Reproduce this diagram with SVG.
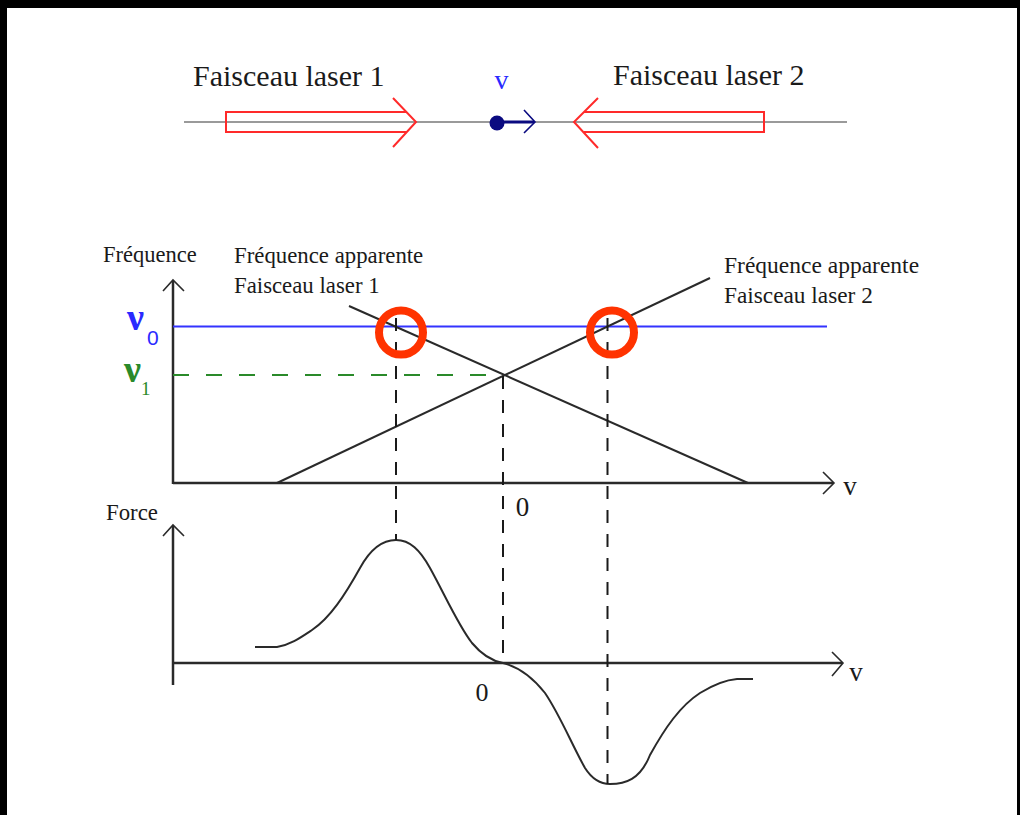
<svg xmlns="http://www.w3.org/2000/svg" width="1020" height="815" viewBox="0 0 1020 815">
<style>
.lbl{font-family:"Liberation Serif","Times New Roman",serif;fill:#1a1a1a}
.axis{stroke:#2a2a2a;stroke-width:2.5;fill:none}
.arm{stroke:#2a2a2a;stroke-width:1.6;fill:none}
.laser{stroke:#ff2a2a;stroke-width:2;fill:none}
.dash{stroke:#1a1a1a;stroke-width:2;stroke-dasharray:13 11;fill:none}
.freq{stroke:#2a2a2a;stroke-width:2;fill:none}
.ring{stroke:#ff3300;stroke-width:8;fill:none}
.nu{font-family:"Liberation Serif","Times New Roman",serif;font-size:38px;font-weight:bold}
</style>
<rect x="0" y="0" width="1020" height="815" fill="#ffffff"/>
<rect x="0" y="0" width="1020" height="8" fill="#000"/>
<rect x="0" y="0" width="7" height="815" fill="#000"/>
<rect x="1017" y="0" width="3" height="815" fill="#000"/>

<g id="beam-axis">
<line x1="184" y1="122" x2="847" y2="122" stroke="#9a9a9a" stroke-width="2"/>
</g>
<g id="laser1">
<text class="lbl" x="193" y="86" font-size="30">Faisceau laser 1</text>
<path class="laser" d="M407,112 L226,112 L226,132 L407,132 M393,98 L416,122 L393,147"/>
</g>
<g id="laser2">
<text class="lbl" x="613" y="85" font-size="30">Faisceau laser 2</text>
<path class="laser" d="M584,112 L764,112 L764,132 L584,132 M598,98 L574,122 L598,148"/>
</g>
<g id="atom">
<text x="501.5" y="89" font-size="28" text-anchor="middle" font-family="Liberation Serif, serif" fill="#2a2aff">v</text>
<circle cx="497" cy="123" r="7.5" fill="#0a0a80"/>
<line x1="497" y1="122" x2="534" y2="122" stroke="#0a0a80" stroke-width="3.2"/>
<path d="M524,110 L535,122 L524,133" stroke="#0a0a80" stroke-width="1.6" fill="none"/>
</g>

<g id="freq-graph">
<text class="lbl" x="103" y="262" font-size="22.5">Fréquence</text>
<line class="axis" x1="173" y1="281" x2="173" y2="484"/>
<path class="arm" d="M163,291 L173,280 L184,291"/>
<line class="axis" x1="173" y1="483" x2="833" y2="483"/>
<path class="arm" d="M823,472 L834,483 L823,494"/>
<text class="lbl" x="850" y="495" font-size="27" text-anchor="middle">v</text>
<text class="lbl" x="522.5" y="516" font-size="27" text-anchor="middle">0</text>
</g>
<g id="nu0">
<line x1="173" y1="326.5" x2="827" y2="326.5" stroke="#3333ff" stroke-width="2.2"/>
<text class="nu" x="127" y="330" fill="#2a2aff">ν</text>
<text x="147" y="345" font-size="21" font-family="Liberation Sans, sans-serif" fill="#2a2aff">0</text>
</g>
<g id="nu1">
<line x1="173" y1="375" x2="503" y2="375" stroke="#2a8a2a" stroke-width="2.2" stroke-dasharray="16 17"/>
<text class="nu" x="124" y="382" fill="#2a8a2a">ν</text>
<text x="141" y="395" font-size="19" font-family="Liberation Serif, serif" fill="#2a8a2a">1</text>
</g>
<g id="apparent1">
<text class="lbl" x="234" y="263" font-size="22.8">Fréquence apparente</text>
<text class="lbl" x="234" y="293" font-size="22.8">Faisceau laser 1</text>
<line class="freq" x1="349" y1="306" x2="748" y2="483"/>
</g>
<g id="apparent2">
<text class="lbl" x="724" y="273" font-size="23.5">Fréquence apparente</text>
<text class="lbl" x="724" y="303" font-size="23.3">Faisceau laser 2</text>
<line class="freq" x1="277" y1="483" x2="710" y2="278"/>
</g>

<g id="force-graph">
<text class="lbl" x="106" y="520" font-size="22.8">Force</text>
<line class="axis" x1="173" y1="526" x2="173" y2="685"/>
<path class="arm" d="M163,536 L173,525 L184,536"/>
<line class="axis" x1="173" y1="663" x2="842" y2="663"/>
<path class="arm" d="M832,652 L843,663 L832,676"/>
<text class="lbl" x="856" y="681" font-size="27" text-anchor="middle">v</text>
<text class="lbl" x="482" y="701" font-size="26" text-anchor="middle">0</text>
<path class="freq" d="M255,647 L277,647 C290,645 300,638 312,630 C330,618 345,595 360,568 C372,546 385,540 396,540 C410,540 420,550 430,568 C445,595 458,625 472,643 C482,655 492,661 503,663 C515,666 530,674 545,693 C560,715 572,745 585,768 C592,779 600,784 610,784 C625,784 640,780 650,755 C665,728 680,706 700,693 C713,685 725,680 737,679 L753,679"/>
</g>

<g id="connectors">
<line class="dash" x1="396" y1="318" x2="396" y2="540"/>
<line class="dash" x1="503" y1="376" x2="503" y2="663"/>
<line class="dash" x1="607.5" y1="318" x2="607.5" y2="784"/>
</g>

<g id="markers">
<circle class="ring" cx="401" cy="332.5" r="22"/>
<circle class="ring" cx="612" cy="332.5" r="22"/>
</g>
</svg>
